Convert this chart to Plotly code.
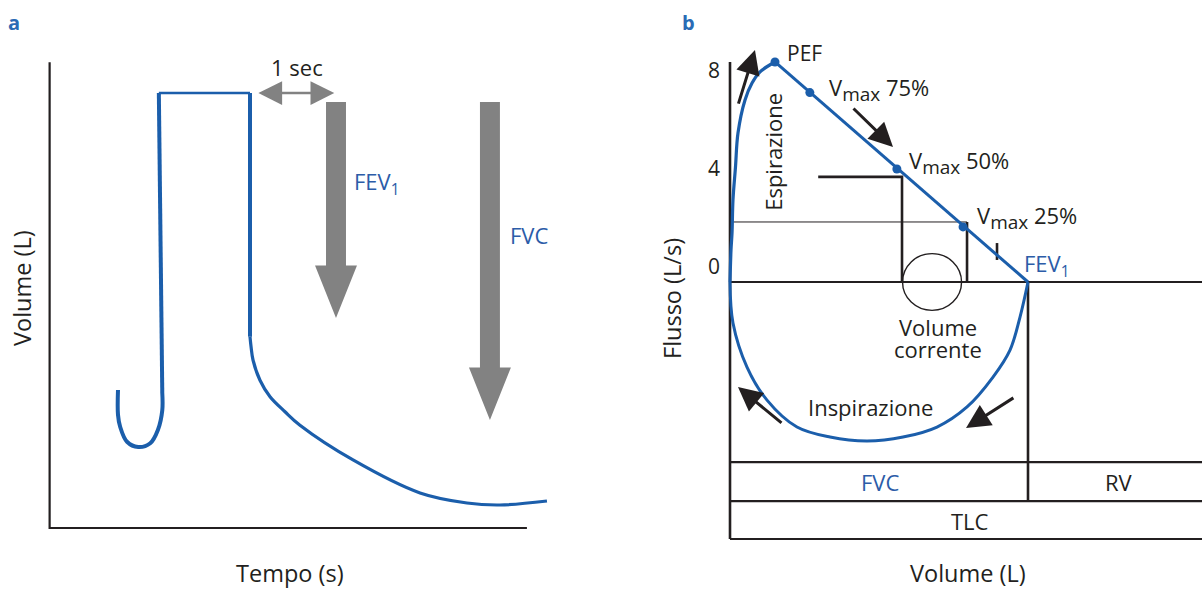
import plotly.graph_objects as go

# ---------------- Panel a: spirogram (time in s, volume in L) ----------------
u_time = [-1.535, -1.535, -1.51, -1.43, -1.30, -1.16, -1.07, -1.02, -1.02]
u_volume = [1.84, 1.51, 1.35, 1.15, 1.08, 1.13, 1.31, 1.57, 1.80]
plateau_time = [-1.02, -1.06, 0.0, 0.0]
plateau_volume = [1.80, 5.80, 5.80, 2.55]
exhale_time = [0.0, 0.012, 0.035, 0.116, 0.233, 0.407, 0.581, 1.198, 1.977, 2.523, 2.907, 3.453]
exhale_volume = [2.55, 2.42, 2.24, 1.97, 1.75, 1.55, 1.37, 0.907, 0.467, 0.333, 0.307, 0.36]
frame_a_time = [-2.33, -2.33, 3.22]
frame_a_volume = [6.21, 0.0, 0.0]
fev1_time, fvc_time = 1.0, 2.79
arrow_top_volume = 5.68
fev1_tip_volume, fvc_tip_volume = 2.80, 1.44

# ---------------- Panel b: flow-volume loop (volume in L, flow in L/s) -------
exp_rise_volume = [0.0, 0.017, 0.034, 0.05, 0.092, 0.134, 0.252, 0.37, 0.50, 0.755]
exp_rise_flow = [0.0, 1.31, 2.00, 3.35, 4.69, 6.08, 7.43, 8.12, 8.57, 8.98]
exp_fall_volume = [0.755, 5.0]
exp_fall_flow = [8.98, 0.0]
insp_volume = [5.0, 4.866, 4.698, 4.413, 3.977, 3.473, 2.903, 2.299, 1.678, 1.124, 0.621, 0.285, 0.05, 0.0]
insp_flow = [0.0, -1.43, -2.78, -3.88, -5.10, -5.92, -6.33, -6.49, -6.33, -5.92, -4.82, -3.47, -1.67, 0.0]
point_names = ["PEF", "V75", "V50", "V25"]
point_volume = [0.755, 1.34, 2.80, 3.91]
point_flow = [8.98, 7.73, 4.61, 2.25]
flow_ticks = [0, 4, 8]
tick_labels = ["0", "4", "8"]
fvc_volume = 5.0
right_volume = 7.92
top_flow = 8.98
row_flows = [-7.35, -8.94, -10.49]
tidal_center_volume, tidal_rx, tidal_ry = 3.39, 0.495, 1.16
v50_box_volume = [1.48, 2.886, 2.886]
v50_box_flow = [4.29, 4.29, 0.0]
v25_box_volume = [3.977, 3.977]
v25_box_flow = [2.45, 0.0]
thin_volume = [0.034, 3.977]
thin_flow = [2.45, 2.45]
fev1_mark_volume = [4.48, 4.48]
fev1_mark_flow = [1.59, 0.90]

W, H = 1202, 589
BLUE = "#1b5eab"
TXT_BLUE = "#2c5ca8"
INK = "#231f20"
GRAY = "#828282"
FONT = "Open Sans"
FS = 22
TITLE_FS = 23.5

fig = go.Figure()

# panel a traces
fig.add_trace(go.Scatter(x=u_time, y=u_volume, mode="lines", line=dict(color=BLUE, width=4, shape="spline"),
                         xaxis="x", yaxis="y", hoverinfo="skip"))
fig.add_trace(go.Scatter(x=plateau_time[:2], y=plateau_volume[:2], mode="lines", line=dict(color=BLUE, width=4),
                         xaxis="x", yaxis="y", hoverinfo="skip"))
fig.add_trace(go.Scatter(x=plateau_time[1:3], y=plateau_volume[1:3], mode="lines", line=dict(color=BLUE, width=2.5),
                         xaxis="x", yaxis="y", hoverinfo="skip"))
fig.add_trace(go.Scatter(x=plateau_time[2:], y=plateau_volume[2:], mode="lines", line=dict(color=BLUE, width=4),
                         xaxis="x", yaxis="y", hoverinfo="skip"))
fig.add_trace(go.Scatter(x=exhale_time, y=exhale_volume, mode="lines",
                         line=dict(color=BLUE, width=3.2, shape="spline", smoothing=1.0),
                         xaxis="x", yaxis="y", hoverinfo="skip"))
fig.add_trace(go.Scatter(x=frame_a_time, y=frame_a_volume, mode="lines", line=dict(color=INK, width=2.2),
                         xaxis="x", yaxis="y", hoverinfo="skip"))

# panel b traces
fig.add_trace(go.Scatter(x=[0, 0], y=[top_flow, row_flows[2]], mode="lines", line=dict(color=INK, width=2.6),
                         xaxis="x2", yaxis="y2", hoverinfo="skip"))
fig.add_trace(go.Scatter(x=[0, right_volume], y=[0, 0], mode="lines", line=dict(color=INK, width=2.2),
                         xaxis="x2", yaxis="y2", hoverinfo="skip"))
for rf in row_flows:
    fig.add_trace(go.Scatter(x=[0, right_volume], y=[rf, rf], mode="lines", line=dict(color=INK, width=2.2),
                             xaxis="x2", yaxis="y2", hoverinfo="skip"))
fig.add_trace(go.Scatter(x=[fvc_volume, fvc_volume], y=[0, row_flows[1]], mode="lines", line=dict(color=INK, width=2.6),
                         xaxis="x2", yaxis="y2", hoverinfo="skip"))
fig.add_trace(go.Scatter(x=thin_volume, y=thin_flow, mode="lines", line=dict(color=INK, width=1),
                         xaxis="x2", yaxis="y2", hoverinfo="skip"))
fig.add_trace(go.Scatter(x=v50_box_volume, y=v50_box_flow, mode="lines", line=dict(color=INK, width=2.6),
                         xaxis="x2", yaxis="y2", hoverinfo="skip"))
fig.add_trace(go.Scatter(x=v25_box_volume, y=v25_box_flow, mode="lines", line=dict(color=INK, width=2.6),
                         xaxis="x2", yaxis="y2", hoverinfo="skip"))
fig.add_trace(go.Scatter(x=fev1_mark_volume, y=fev1_mark_flow, mode="lines", line=dict(color=INK, width=2.6),
                         xaxis="x2", yaxis="y2", hoverinfo="skip"))
fig.add_trace(go.Scatter(x=exp_rise_volume, y=exp_rise_flow, mode="lines", line=dict(color=BLUE, width=3.2, shape="spline"),
                         xaxis="x2", yaxis="y2", hoverinfo="skip"))
fig.add_trace(go.Scatter(x=exp_fall_volume, y=exp_fall_flow, mode="lines", line=dict(color=BLUE, width=3),
                         xaxis="x2", yaxis="y2", hoverinfo="skip"))
fig.add_trace(go.Scatter(x=insp_volume, y=insp_flow, mode="lines", line=dict(color=BLUE, width=3, shape="spline"),
                         xaxis="x2", yaxis="y2", hoverinfo="skip"))
fig.add_trace(go.Scatter(x=point_volume, y=point_flow, mode="markers", marker=dict(color=BLUE, size=9),
                         text=point_names, xaxis="x2", yaxis="y2", hoverinfo="text"))

shapes = []
# gray down arrows (FEV1, FVC)
def down_arrow(xc, top, tip, hw=0.116, HW=0.244, head_len=0.70):
    base = tip + head_len
    return (f"M {xc-hw},{top} L {xc+hw},{top} L {xc+hw},{base} L {xc+HW},{base} "
            f"L {xc},{tip} L {xc-HW},{base} L {xc-hw},{base} Z")
for xc, tip in [(fev1_time, fev1_tip_volume), (fvc_time, fvc_tip_volume)]:
    shapes.append(dict(type="path", xref="x", yref="y", path=down_arrow(xc, arrow_top_volume, tip),
                       fillcolor=GRAY, line=dict(width=0)))
# tidal volume circle
shapes.append(dict(type="circle", xref="x2", yref="y2",
                   x0=tidal_center_volume - tidal_rx, x1=tidal_center_volume + tidal_rx,
                   y0=-tidal_ry, y1=tidal_ry, line=dict(color=INK, width=1.4)))

ann = []
def ptxt(text, px, py, size=FS, color=INK, angle=0, bold=False, xanchor="center"):
    ann.append(dict(text=f"<b>{text}</b>" if bold else text, x=px / W, y=1 - py / H, xref="paper", yref="paper",
                    showarrow=False, textangle=angle, xanchor=xanchor, yanchor="middle",
                    font=dict(family=FONT, size=size, color=color)))
def dtxt(text, x, y, ax="x2", ay="y2", size=FS, color=INK, angle=0, xanchor="center"):
    ann.append(dict(text=text, x=x, y=y, xref=ax, yref=ay, showarrow=False, textangle=angle,
                    xanchor=xanchor, yanchor="middle", font=dict(family=FONT, size=size, color=color)))
def arr(x_tip, y_tip, x_tail, y_tail, ax="x2", ay="y2", color=INK, width=3, size=1.6, side="end"):
    ann.append(dict(text="", x=x_tip, y=y_tip, ax=x_tail, ay=y_tail, xref=ax, yref=ay, axref=ax, ayref=ay,
                    showarrow=True, arrowhead=2, arrowsize=size, arrowwidth=width, arrowcolor=color,
                    arrowside=side, standoff=0, startstandoff=0))

SUB = "<sub><span style='font-size:19px'>max</span></sub>"

# panel a text
ptxt("a", 14, 22, size=20, color="#2a6bb5", bold=True)
ptxt("Volume (L)", 22, 288, size=TITLE_FS, angle=-90)
ptxt("Tempo (s)", 290, 573, size=TITLE_FS)
ptxt("1 sec", 297, 67)
ptxt("FEV<sub>1</sub>", 352, 183, color=TXT_BLUE, xanchor="left")
ptxt("FVC", 508, 235, color=TXT_BLUE, xanchor="left")
arr(0.98, 5.80, 0.08, 5.80, ax="x", ay="y", color=GRAY, width=2.5, size=1.9, side="end+start")

# panel b text
ptxt("b", 688, 22, size=20, color="#2a6bb5", bold=True)
ptxt("Flusso (L/s)", 672, 298, size=TITLE_FS, angle=-90)
ptxt("Volume (L)", 968, 573, size=TITLE_FS)
dtxt("PEF", 0.92, 9.35, size=21, xanchor="left")
dtxt(f"V{SUB} 75%", 1.63, 7.84, xanchor="left")
dtxt(f"V{SUB} 50%", 2.97, 4.86, xanchor="left")
dtxt(f"V{SUB} 25%", 4.11, 2.65, xanchor="left")
dtxt("FEV<sub>1</sub>", 4.90, 0.69, color=TXT_BLUE, xanchor="left")
dtxt("Espirazione", 0.72, 5.31, angle=-90)
dtxt("Volume", 3.49, -1.84)
dtxt("corrente", 3.49, -2.74)
dtxt("Inspirazione", 2.35, -5.10)
dtxt("FVC", 2.52, -8.16, color=TXT_BLUE)
dtxt("RV", 6.53, -8.16)
dtxt("TLC", 4.03, -9.76)
arr(0.419, 9.47, 0.134, 7.22)
arr(2.735, 5.51, 2.047, 7.14)
arr(0.134, -4.29, 0.889, -5.80)
arr(3.96, -5.96, 4.78, -4.69)

fig.update_layout(
    width=W, height=H, margin=dict(l=0, r=0, t=0, b=0),
    paper_bgcolor="white", plot_bgcolor="white", showlegend=False,
    shapes=shapes, annotations=ann,
    xaxis=dict(domain=[0, 1], range=[-250 / 86, 952 / 86], visible=False, fixedrange=True),
    yaxis=dict(domain=[0, 1], range=[(528 - 589) / 75, 528 / 75], visible=False, fixedrange=True),
    xaxis2=dict(overlaying="x", range=[-730 / 59.6, 472 / 59.6], visible=False, fixedrange=True),
    yaxis2=dict(overlaying="y", range=[(282 - 589) / 24.5, 282 / 24.5], anchor="free", position=730 / W,
                tickvals=flow_ticks, ticktext=tick_labels, showgrid=False, zeroline=False, showline=False,
                ticks="", ticklabelshift=-15, ticklabelstandoff=10,
                tickfont=dict(family=FONT, size=21, color=INK), fixedrange=True),
)

fig.write_html("out.html", config={"displayModeBar": False},
               post_script="document.body.style.margin='0';document.body.style.overflow='hidden';")
